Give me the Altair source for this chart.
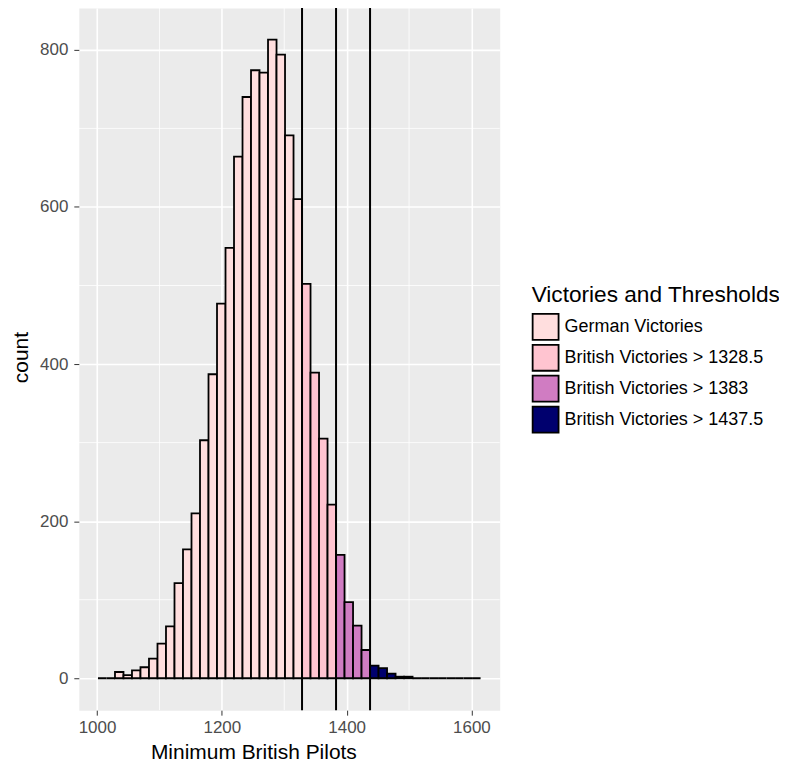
import altair as alt
import pandas as pd

# ---- data ----
bin_start = 1001.5
bin_width = 13.625
counts = [0, 0, 8, 4, 10, 14, 25, 44, 66, 121, 164, 210, 303, 387, 477, 548,
          664, 740, 774, 771, 813, 794, 691, 610, 502, 389, 305, 221, 157, 97,
          67, 36, 16, 13, 6, 2, 2, 0, 0, 0, 0, 0, 0, 0, 0]
thresholds = [1328.5, 1383, 1437.5]
categories = ["German Victories", "British Victories > 1328.5",
              "British Victories > 1383", "British Victories > 1437.5"]
colors = ["#FFDEDE", "#FFC4D0", "#D07CC2", "#00006E"]
x_ticks = [1000, 1200, 1400, 1600]
x_minor = [1100, 1300, 1500]
y_ticks = [0, 200, 400, 600, 800]
y_minor = [100, 300, 500, 700]

lo = [bin_start + i * bin_width for i in range(len(counts))]
hi = [v + bin_width for v in lo]
group = [categories[sum(1 for t in thresholds if v >= t - 1e-9)] for v in lo]
df = pd.DataFrame({"lo": lo, "hi": hi, "count": counts, "group": group})

FONT = "Liberation Sans"
XT = "Minimum British Pilots"
YT = "count"

xs = alt.Scale(domain=[970.8, 1645.3], nice=False, zero=False)
ys = alt.Scale(domain=[-40.6, 853.3], nice=False, zero=False)

x_axis = alt.Axis(values=x_ticks, format="d", grid=True, gridColor="white",
                  gridWidth=1.6, domain=False, tickSize=5, tickColor="#333333",
                  tickWidth=1, labelFont=FONT, labelFontSize=17,
                  labelColor="#4D4D4D", labelPadding=4, labelFlush=False,
                  labelOverlap=False, titleFont=FONT, titleFontSize=21,
                  titleFontWeight="normal", titleColor="black", titleX=175,
                  titleY=48, titleBaseline="alphabetic", titleAlign="center")
y_axis = alt.Axis(values=y_ticks, format="d", grid=True, gridColor="white",
                  gridWidth=1.6, domain=False, tickSize=5, tickColor="#333333",
                  tickWidth=1, labelFont=FONT, labelFontSize=17,
                  labelColor="#4D4D4D", labelPadding=6, labelFlush=False,
                  labelOverlap=False, titleFont=FONT, titleFontSize=21,
                  titleFontWeight="normal", titleColor="black", titleX=-51,
                  titleY=350, titleAngle=270, titleBaseline="alphabetic",
                  titleAlign="center")

minor_x = alt.Chart(pd.DataFrame({"v": x_minor})).mark_rule(
    color="white", strokeWidth=0.8).encode(
    x=alt.X("v:Q", scale=xs, axis=x_axis, title=XT))
minor_y = alt.Chart(pd.DataFrame({"v": y_minor})).mark_rule(
    color="white", strokeWidth=0.8).encode(
    y=alt.Y("v:Q", scale=ys, axis=y_axis, title=YT))

bars = alt.Chart(df).mark_rect(stroke="black", strokeWidth=1.8).encode(
    x=alt.X("lo:Q", scale=xs, axis=x_axis, title=XT),
    x2="hi:Q",
    y=alt.Y("count:Q", scale=ys, axis=y_axis, title=YT),
    y2=alt.datum(0),
    color=alt.Color("group:N",
                    scale=alt.Scale(domain=categories, range=colors),
                    sort=categories,
                    legend=alt.Legend(
                        title="Victories and Thresholds", orient="none",
                        legendX=454, legendY=277, padding=0,
                        symbolType="square", symbolSize=676,
                        symbolStrokeColor="black", symbolStrokeWidth=1.8,
                        symbolOpacity=1,
                        labelFont=FONT, labelFontSize=18, labelColor="black",
                        labelOffset=5, labelLimit=400,
                        titleFont=FONT, titleFontSize=22.7,
                        titleFontWeight="normal", titleColor="black",
                        titleLimit=400, titlePadding=6, rowPadding=-5)),
)

vlines = alt.Chart(pd.DataFrame({"t": thresholds})).mark_rule(
    color="black", strokeWidth=2).encode(
    x=alt.X("t:Q", scale=xs, axis=x_axis, title=XT))

chart = alt.layer(minor_x, minor_y, bars, vlines).properties(
    width=422, height=704,
    autosize=alt.AutoSizeParams(type="none"),
    padding={"left": 71, "top": -1, "right": 280, "bottom": 53},
).configure_view(fill="#EBEBEB", stroke="transparent")

chart.save("out.html", embed_options={"renderer": "svg", "actions": False})
